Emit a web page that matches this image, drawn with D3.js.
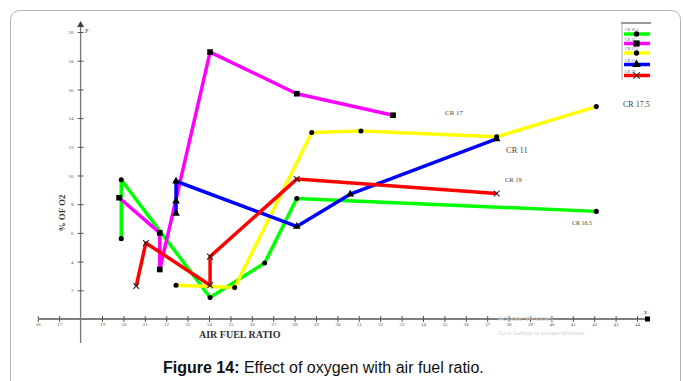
<!DOCTYPE html>
<html>
<head>
<meta charset="utf-8">
<script src="https://cdn.jsdelivr.net/npm/d3@7"></script>
<style>
  html, body { margin: 0; padding: 0; background: #fff; }
  svg { display: block; }
</style>
</head>
<body>
<svg id="chart" width="683" height="381"></svg>
<script>
// Air fuel ratio (x) vs % of O2 (y) for five compression ratios
const seriesNames = ["CR 16.5", "CR 17", "CR 17.5", "CR 11", "CR 19"];
const seriesColors = ["#00ff00", "#ff00ff", "#ffff00", "#0000ff", "#ff0000"];
const seriesMarkers = ["circle", "square", "circle", "triangle", "x"];

const cr165X = [19.9, 19.9, 24.05, 26.6, 28.1, 42.1];
const cr165Y = [5.6, 9.7, 1.5, 3.9, 8.4, 7.5];
const cr17X = [19.8, 21.7, 21.7, 24.05, 28.1, 32.6];
const cr17Y = [8.45, 6.0, 3.45, 18.6, 15.7, 14.2];
const cr175X = [22.46, 25.2, 28.8, 31.1, 37.44, 42.1];
const cr175Y = [2.35, 2.2, 13.0, 13.1, 12.7, 14.8];
const cr11X = [22.46, 22.46, 22.46, 28.1, 30.6, 37.44];
const cr11Y = [7.35, 8.2, 9.6, 6.45, 8.7, 12.55];
const cr19X = [20.6, 21.05, 24.05, 24.05, 28.1, 37.44];
const cr19Y = [2.3, 5.3, 2.35, 4.35, 9.75, 8.75];

const xTickValues = [16, 17, 19, 20, 21, 22, 23, 24, 25, 26, 27, 28, 29, 30, 31, 32,
                     33, 34, 35, 36, 37, 38, 39, 40, 41, 42, 43, 44];
const yTickValues = [2, 4, 6, 8, 10, 12, 14, 16, 18, 20];

const seriesX = [cr165X, cr17X, cr175X, cr11X, cr19X];
const seriesY = [cr165Y, cr17Y, cr175Y, cr11Y, cr19Y];

const svg = d3.select("#chart");

// outer rounded frame
svg.append("rect")
  .attr("x", 10.5).attr("y", 10.5)
  .attr("width", 670).attr("height", 400)
  .attr("rx", 9)
  .attr("fill", "none")
  .attr("stroke", "#b4b4b4")
  .attr("stroke-width", 1);

const x = d3.scaleLinear().domain([18, 44]).range([80.6, 637]);
const y = d3.scaleLinear().domain([0, 20]).range([319, 32]);

// axis lines
svg.append("line")
  .attr("x1", 39).attr("x2", 648)
  .attr("y1", y(0)).attr("y2", y(0))
  .attr("stroke", "#555").attr("stroke-width", 1.3);
svg.append("line")
  .attr("x1", x(18)).attr("x2", x(18))
  .attr("y1", 26).attr("y2", 343)
  .attr("stroke", "#777").attr("stroke-width", 1.3);

// axis end marks
svg.append("path")
  .attr("d", d3.symbol(d3.symbolTriangle, 22)())
  .attr("transform", `translate(${x(18)},25)`)
  .attr("fill", "#444");
svg.append("rect")
  .attr("x", 645).attr("y", 316.5).attr("width", 5).attr("height", 5)
  .attr("fill", "#000");
svg.append("text").attr("x", 85).attr("y", 32)
  .attr("font-family", "Liberation Serif").attr("font-size", 7).attr("fill", "#333")
  .text("y");
svg.append("text").attr("x", 644).attr("y", 314)
  .attr("font-family", "Liberation Serif").attr("font-size", 6).attr("fill", "#333")
  .text("x");

// x axis ticks
const xAxis = d3.axisBottom(x)
  .tickValues(xTickValues)
  .tickFormat(d3.format("d"))
  .tickSize(3)
  .tickPadding(0);
const gx = svg.append("g").attr("transform", `translate(0,${y(0)})`).call(xAxis);
gx.select(".domain").remove();
gx.selectAll(".tick line").attr("y1", -3).attr("y2", 3).attr("stroke", "#555");
gx.selectAll(".tick text")
  .attr("font-family", "Liberation Serif").attr("font-size", 5).attr("fill", "#555");

// y axis ticks
const yAxis = d3.axisLeft(y)
  .tickValues(yTickValues)
  .tickFormat(d3.format("d"))
  .tickSize(3)
  .tickPadding(4);
const gy = svg.append("g").attr("transform", `translate(${x(18)},0)`).call(yAxis);
gy.select(".domain").remove();
gy.selectAll(".tick line").attr("x1", -3).attr("x2", 3).attr("stroke", "#555");
gy.selectAll(".tick text")
  .attr("font-family", "Liberation Serif").attr("font-size", 5).attr("fill", "#555");

// axis titles
svg.append("text")
  .attr("x", 199).attr("y", 337.5)
  .attr("font-family", "Liberation Serif").attr("font-weight", "bold")
  .attr("font-size", 10).attr("fill", "#333")
  .text("AIR FUEL RATIO");
svg.append("text")
  .attr("transform", "translate(65,213) rotate(-90)")
  .attr("text-anchor", "middle")
  .attr("font-family", "Liberation Serif").attr("font-weight", "bold")
  .attr("font-size", 9).attr("fill", "#333")
  .text("% OF O2");

// series lines
const line = d3.line().x(d => x(d[0])).y(d => y(d[1]));

function markerPath(kind, scale) {
  const k = scale || 1;
  if (kind === "circle") return d3.symbol(d3.symbolCircle, 20 * k)();
  if (kind === "square") return d3.symbol(d3.symbolSquare, 32 * k)();
  if (kind === "triangle") return d3.symbol(d3.symbolTriangle, 26 * k)();
  return d3.symbol(d3.symbolX, 24 * k)();
}

function drawMarker(g, kind, px, py, scale) {
  const p = g.append("path")
    .attr("d", markerPath(kind, scale))
    .attr("transform", `translate(${px},${py})`);
  if (kind === "x") {
    p.attr("fill", "none").attr("stroke", "#222").attr("stroke-width", 1.1);
  } else {
    p.attr("fill", "#000");
  }
}

const plot = svg.append("g");
seriesNames.forEach((name, i) => {
  const pts = seriesX[i].map((v, j) => [v, seriesY[i][j]]);
  plot.append("path")
    .datum(pts)
    .attr("d", line)
    .attr("fill", "none")
    .attr("stroke", seriesColors[i])
    .attr("stroke-width", 3.5)
    .attr("stroke-linejoin", "round");
});
seriesNames.forEach((name, i) => {
  seriesX[i].forEach((v, j) => {
    drawMarker(plot, seriesMarkers[i], x(v), y(seriesY[i][j]));
  });
});

// series labels near line ends
const endLabels = [
  { text: "CR 16.5", x: 572, y: 225, size: 6 },
  { text: "CR 17", x: 445, y: 115, size: 7 },
  { text: "CR 17.5", x: 623, y: 107, size: 8 },
  { text: "CR 11", x: 506, y: 153, size: 8.5 },
  { text: "CR 19", x: 505, y: 182, size: 6.5 }
];
endLabels.forEach(l => {
  svg.append("text")
    .attr("x", l.x).attr("y", l.y)
    .attr("font-family", "Liberation Serif")
    .attr("font-size", l.size).attr("fill", "#444")
    .text(l.text);
});

// legend
const legend = svg.append("g");
legend.append("line").attr("x1", 621).attr("x2", 651).attr("y1", 23).attr("y2", 23)
  .attr("stroke", "#999").attr("stroke-width", 2);
legend.append("line").attr("x1", 622).attr("x2", 622).attr("y1", 23).attr("y2", 80)
  .attr("stroke", "#aaa").attr("stroke-width", 1);
const legendRows = [34, 43.5, 53, 64.5, 75.5];
seriesNames.forEach((name, i) => {
  const ly = legendRows[i];
  legend.append("text")
    .attr("x", 625).attr("y", ly - 3)
    .attr("font-family", "Liberation Serif").attr("font-size", 4)
    .attr("fill", "#555")
    .text(name);
  legend.append("line")
    .attr("x1", 624).attr("x2", 650).attr("y1", ly).attr("y2", ly)
    .attr("stroke", seriesColors[i]).attr("stroke-width", 3.5);
  drawMarker(legend, seriesMarkers[i], 636.5, ly, 1.2);
});

// faint overlay notice
svg.append("text").attr("x", 498).attr("y", 320.5)
  .attr("font-family", "Liberation Sans").attr("font-size", 7)
  .attr("fill", "#d4d4d4").text("Activate Windows");
svg.append("text").attr("x", 498).attr("y", 335)
  .attr("font-family", "Liberation Sans").attr("font-size", 5.5)
  .attr("fill", "#d4d4d4").text("Go to Settings to activate Windows.");

// caption
const cap = svg.append("text")
  .attr("x", 163).attr("y", 373)
  .attr("font-family", "Liberation Sans").attr("font-size", 16)
  .attr("fill", "#111");
cap.append("tspan").attr("font-weight", "bold").text("Figure 14:");
cap.append("tspan").text(" Effect of oxygen with air fuel ratio.");
</script>
</body>
</html>
